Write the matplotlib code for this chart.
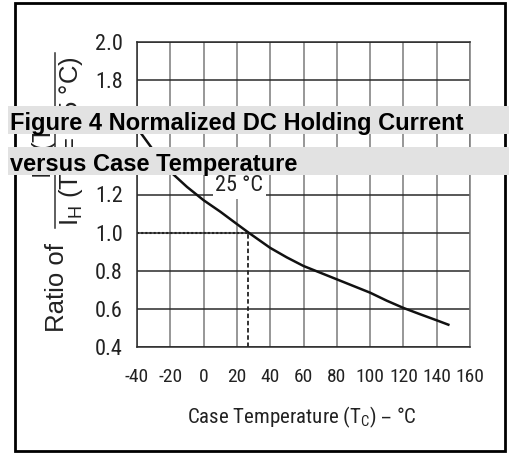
import matplotlib
matplotlib.use("Agg")
import matplotlib.pyplot as plt
from matplotlib import font_manager
from matplotlib.patches import Rectangle
from matplotlib.lines import Line2D

# curve
temp_c = [-40, -30, -20, -10, 0, 10, 20, 27, 40, 50, 60, 70, 80, 90, 100, 110, 120, 130, 140, 147]
ratio = [1.55, 1.43, 1.32, 1.24, 1.17, 1.11, 1.045, 1.0, 0.92, 0.87, 0.825, 0.79, 0.755,
         0.72, 0.685, 0.643, 0.605, 0.572, 0.54, 0.517]
ref_temp = 26.5
ref_ratio = 1.0
ref_label = "25 °C"
x_ticks = [-40, -20, 0, 20, 40, 60, 80, 100, 120, 140, 160]
y_ticks = [0.4, 0.6, 0.8, 1.0, 1.2, 1.4, 1.6, 1.8, 2.0]
x_title = "Case Temperature (T$_\\mathregular{C}$) – °C"
y_title = "Ratio of"
y_num = "I$_\\mathregular{H}$ (T$_\\mathregular{C}$)"
y_den = "I$_\\mathregular{H}$ (T$_\\mathregular{C}$ = 25 °C)"
banner_lines = ["Figure 4 Normalized DC Holding Current", "versus Case Temperature"]

W, H = 509, 454


def fx(x):
    return x / W


def fy(y):
    return 1 - y / H


names = {f.name for f in font_manager.fontManager.ttflist}
narrow, xsize, ysize, lsize = "Liberation Sans", 13.5, 14.5, 14.5
for cand in ["Liberation Sans Narrow", "Arial Narrow", "Roboto Condensed"]:
    if cand in names:
        narrow, xsize, ysize, lsize = cand, 14, 16, 15
        break

fig = plt.figure(figsize=(W / 100, H / 100), dpi=100)
ax = fig.add_axes([fx(137), fy(347), 333 / W, 305 / H])
ax.set_xlim(-40, 160)
ax.set_ylim(0.4, 2.0)
ax.set_xticks(x_ticks)
ax.set_yticks(y_ticks)
ax.set_xticklabels([str(t) for t in x_ticks], fontfamily=narrow, fontsize=xsize, color="#222222")
ax.set_yticklabels(["%.1f" % v for v in y_ticks], fontfamily=narrow, fontsize=ysize, color="#222222")
ax.tick_params(axis="x", length=0, pad=15)
ax.tick_params(axis="y", length=0, pad=10)
ax.xaxis.grid(True, color="#7a7a7a", lw=1.1)
ax.yaxis.grid(True, color="#2a2a2a", lw=1.1)
for side in ["left", "top", "bottom"]:
    ax.spines[side].set_color("#2a2a2a")
    ax.spines[side].set_linewidth(1.1)
ax.spines["right"].set_color("#7a7a7a")
ax.spines["right"].set_linewidth(1.1)

ax.plot(temp_c, ratio, color="#111111", lw=1.8)
ax.plot([-40, ref_temp], [ref_ratio, ref_ratio], color="#222222", lw=1.5, ls=(0, (1, 1)))
ax.plot([ref_temp, ref_temp], [0.4, ref_ratio], color="#222222", lw=1.3, ls=(0, (2.5, 1.5)))
ax.text(21.5, 1.245, ref_label, ha="center", va="center", fontfamily=narrow, fontsize=ysize,
        color="#222222", bbox=dict(facecolor="white", edgecolor="none", pad=2))

fig.text(fx(302), fy(417), x_title, ha="center", va="center", fontfamily=narrow,
         fontsize=lsize, color="#222222")

# y label: "Ratio of" + fraction
fig.text(fx(57), fy(287), y_title, rotation=90, ha="center", va="center",
         fontfamily="Liberation Sans", fontsize=18.5, color="#222222")
fig.text(fx(44), fy(141), y_num, rotation=90, ha="center", va="center",
         fontfamily="Liberation Sans", fontsize=18.5, color="#222222")
fig.text(fx(71), fy(141), y_den, rotation=90, ha="center", va="center",
         fontfamily="Liberation Sans", fontsize=18.5, color="#222222")
fig.add_artist(Line2D([fx(55), fx(55)], [fy(53), fy(228)], transform=fig.transFigure,
                      color="#333333", lw=1.1))

# outer frame
fig.add_artist(Rectangle((fx(15), fy(451)), 490 / W, 448 / H, transform=fig.transFigure,
                         fill=False, ec="black", lw=2))

# grey caption banners over the chart
for text, top, bottom in zip(banner_lines, [106, 147], [134, 175]):
    fig.add_artist(Rectangle((fx(8), fy(bottom)), (W - 8) / W, (bottom - top) / H,
                             transform=fig.transFigure, fc="#e2e2e2", ec="none", zorder=10))
    fig.text(fx(10), fy(bottom - 4), text, ha="left", va="baseline", fontfamily="Liberation Sans",
             fontweight="bold", fontsize=17, color="black", zorder=11)

fig.savefig("out.png", dpi=100)
